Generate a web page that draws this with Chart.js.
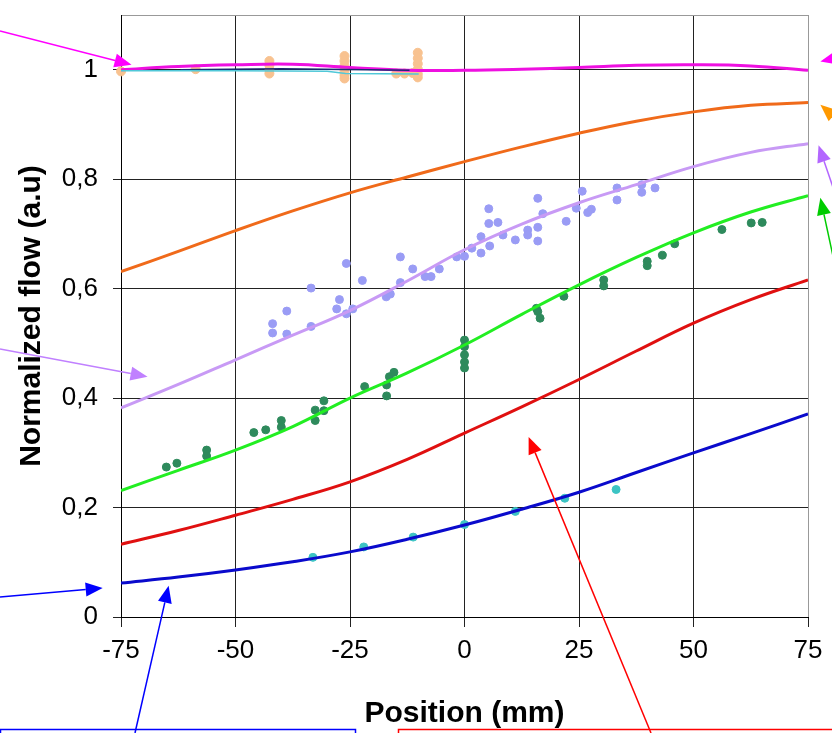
<!DOCTYPE html>
<html>
<head>
<meta charset="utf-8">
<script src="https://cdn.jsdelivr.net/npm/chart.js@4"></script>
<style>
  html, body { margin: 0; padding: 0; background: #fff; }
</style>
</head>
<body>
<canvas id="myChart" width="832" height="733"></canvas>
<script>
const positions = [-75, -62.5, -50, -37.5, -25, -12.5, 0, 12.5, 25, 37.5, 50, 62.5, 75];

// fitted curves
const magentaFit  = [1.0, 1.006, 1.009, 1.01, 1.004, 0.999, 0.999, 1.001, 1.004, 1.008, 1.009, 1.007, 0.999];
const orangeFit   = [0.631, 0.668, 0.706, 0.742, 0.775, 0.804, 0.832, 0.859, 0.884, 0.906, 0.923, 0.935, 0.94];
const lavenderFit = [0.382, 0.425, 0.47, 0.515, 0.56, 0.614, 0.671, 0.718, 0.757, 0.79, 0.823, 0.849, 0.865];
const greenFit    = [0.231, 0.268, 0.305, 0.348, 0.40, 0.446, 0.497, 0.553, 0.607, 0.657, 0.702, 0.74, 0.77];
const redFit      = [0.133, 0.158, 0.186, 0.215, 0.247, 0.288, 0.336, 0.384, 0.434, 0.486, 0.537, 0.58, 0.616];
const blueFit     = [0.062, 0.073, 0.086, 0.101, 0.119, 0.142, 0.168, 0.197, 0.228, 0.264, 0.30, 0.335, 0.371];

// thin lines hidden under the magenta one
const cyanX = [-75, -50, -30, -26, -10];
const cyanY = [0.998, 0.998, 0.997, 0.993, 0.992];
const navyX = [-62, -40, -12];
const navyY = [1.0, 1.002, 0.999];

// measured points
const peachX = [-75, -58.7, -42.6, -42.6, -42.6, -42.6, -26.2, -26.2, -26.2, -26.2, -26.2, -26.2, -14.9, -13.1, -11.3, -10.2, -10.2, -10.2, -10.2, -10.2, -10.2];
const peachY = [0.997, 1.001, 1.016, 1.008, 1.0, 0.993, 1.025, 1.016, 1.007, 0.998, 0.99, 0.984, 0.993, 0.993, 0.994, 1.031, 1.021, 1.011, 1.001, 0.992, 0.986];

const purpleX = [-41.9, -41.9, -38.8, -38.8, -33.5, -33.5, -27.3, -27.9, -25.8, -25.8, -24.4, -22.3, -17.1, -16.2, -14, -14, -11.3, -8.6, -7.3, -5.5, -1.7, 0, 1.6, 3.6, 3.6, 5.5, 5.3, 5.3, 7.3, 8.4, 11.1, 13.8, 13.8, 16, 17.1, 16, 16, 22.2, 24.4, 25.7, 26.9, 27.7, 33.3, 33.3, 38.7, 38.7, 41.6];
const purpleY = [0.536, 0.519, 0.559, 0.517, 0.601, 0.531, 0.58, 0.563, 0.646, 0.554, 0.563, 0.615, 0.585, 0.59, 0.658, 0.611, 0.636, 0.622, 0.622, 0.636, 0.658, 0.659, 0.674, 0.695, 0.665, 0.678, 0.719, 0.746, 0.721, 0.698, 0.689, 0.707, 0.698, 0.765, 0.737, 0.712, 0.687, 0.723, 0.747, 0.778, 0.739, 0.745, 0.784, 0.762, 0.79, 0.776, 0.784];

const dkGreenX = [-65.1, -62.8, -56.3, -56.3, -46, -43.4, -40, -40, -32.6, -32.6, -30.7, -30.7, -21.8, -17, -17, -16.4, -15.4, 0, 0, 0, 0, 0, 15.7, 16, 16.5, 21.7, 30.4, 30.4, 39.9, 39.9, 43.2, 45.9, 56.2, 62.6, 65];
const dkGreenY = [0.274, 0.281, 0.305, 0.294, 0.337, 0.342, 0.359, 0.347, 0.378, 0.359, 0.395, 0.377, 0.421, 0.404, 0.424, 0.439, 0.447, 0.506, 0.494, 0.479, 0.466, 0.455, 0.564, 0.558, 0.546, 0.586, 0.616, 0.605, 0.65, 0.642, 0.661, 0.682, 0.708, 0.72, 0.721];

const cyanPtsX = [-33.1, -22, -11.2, 0, 11.1, 21.9, 33.1];
const cyanPtsY = [0.109, 0.128, 0.146, 0.169, 0.193, 0.217, 0.233];

const xTicks = [-75, -50, -25, 0, 25, 50, 75];
const yTicks = [0, 0.2, 0.4, 0.6, 0.8, 1];

const FONT = "'Liberation Sans', Arial, sans-serif";

function pts(xs, ys) {
    return xs.map((x, i) => ({ x: x, y: ys[i] }));
}

function fitLine(ys, color, width) {
    return {
        data: pts(positions, ys),
        showLine: true,
        borderColor: color,
        borderWidth: width || 3,
        pointRadius: 0,
        tension: 0.4,
        fill: false,
    };
}

function dots(xs, ys, color, r) {
    return {
        data: pts(xs, ys),
        showLine: false,
        backgroundColor: color,
        borderColor: color,
        borderWidth: 1,
        pointRadius: r || 4,
        clip: 12,
    };
}

// arrows: tip in data units, tail in canvas pixels
const arrows = [
    { tip: [-72.7, 1.009], tail: [0, 31], color: "#ff00ff" },
    { tip: [77.7, 1.015], tail: [845, 56], color: "#ff00ff" },
    { tip: [77.7, 0.936], tail: [845, 126], color: "#ff9900" },
    { tip: [77.3, 0.862], tail: [836, 196], color: "#b366ff" },
    { tip: [77.7, 0.766], tail: [836, 270], color: "#00cc00" },
    { tip: [-69.2, 0.439], tail: [0, 349], color: "#c080ff" },
    { tip: [-79, 0.053], tail: [0, 597], color: "#0000ff" },
    { tip: [-64.6, 0.057], tail: [135, 733], color: "#0000ff" },
    { tip: [14.0, 0.329], tail: [651, 733], color: "#ff0000" },
];

function drawArrow(ctx, x0, y0, x1, y1, color) {
    const a = Math.atan2(y1 - y0, x1 - x0);
    const len = 17, half = 7;
    const bx = x1 - len * Math.cos(a), by = y1 - len * Math.sin(a);
    ctx.strokeStyle = color;
    ctx.fillStyle = color;
    ctx.lineWidth = 1.5;
    ctx.beginPath();
    ctx.moveTo(x0, y0);
    ctx.lineTo(bx, by);
    ctx.stroke();
    ctx.beginPath();
    ctx.moveTo(x1, y1);
    ctx.lineTo(bx + half * Math.sin(a), by - half * Math.cos(a));
    ctx.lineTo(bx - half * Math.sin(a), by + half * Math.cos(a));
    ctx.closePath();
    ctx.fill();
}

const notes = {
    id: "notes",
    afterDraw(chart) {
        const { ctx, scales } = chart;
        ctx.save();
        arrows.forEach((ar) => {
            const tx = scales.x.getPixelForValue(ar.tip[0]);
            const ty = scales.y.getPixelForValue(ar.tip[1]);
            drawArrow(ctx, ar.tail[0], ar.tail[1], tx, ty, ar.color);
        });
        // caption boxes cut by the bottom edge
        ctx.lineWidth = 1.5;
        ctx.strokeStyle = "#0000ff";
        ctx.strokeRect(0.5, 729.5, 355, 20);
        ctx.strokeStyle = "#ff0000";
        ctx.strokeRect(398.5, 729.5, 460, 20);
        ctx.restore();
    },
};

const ctx = document.getElementById("myChart").getContext("2d");

const myChart = new Chart(ctx, {
    type: "scatter",
    data: {
        datasets: [
            fitLine(blueFit, "#0a0acc"),
            fitLine(redFit, "#e01010"),
            fitLine(greenFit, "#22ee22"),
            fitLine(lavenderFit, "#c89af5"),
            fitLine(orangeFit, "#f06a1a"),
            { data: pts(cyanX, cyanY), showLine: true, borderColor: "#50c8d8", borderWidth: 1.5, pointRadius: 0 },
            { data: pts(navyX, navyY), showLine: true, borderColor: "#1a2a70", borderWidth: 1.5, pointRadius: 0 },
            fitLine(magentaFit, "#ee10e0"),
            dots(cyanPtsX, cyanPtsY, "#3cc4c4", 4),
            dots(dkGreenX, dkGreenY, "#2e8a5c"),
            dots(purpleX, purpleY, "#9a9cf5"),
            dots(peachX, peachY, "#f8c290", 4.5),
        ],
    },
    options: {
        responsive: false,
        animation: false,
        layout: { padding: { top: 0, right: 24, left: 0, bottom: 0 } },
        plugins: { legend: { display: false }, tooltip: { enabled: false } },
        scales: {
            x: {
                type: "linear",
                min: -75,
                max: 75,
                afterBuildTicks: (s) => { s.ticks = xTicks.map((v) => ({ value: v })); },
                afterFit: (s) => { s.height = 116; },
                ticks: { color: "#000", font: { family: FONT, size: 26 }, padding: 8, maxRotation: 0 },
                grid: {
                    color: (c) => (c.tick && c.tick.value === 75 ? "#999" : "#222"),
                    tickColor: "#222",
                    tickLength: 10,
                    lineWidth: 1,
                },
                border: { color: "#000", width: 1 },
                title: {
                    display: true,
                    text: "Position (mm)",
                    color: "#000",
                    font: { family: FONT, size: 30, weight: "bold" },
                    padding: { top: 0, bottom: 1 },
                },
            },
            y: {
                min: 0,
                max: 1.1,
                afterBuildTicks: (s) => { s.ticks = yTicks.concat([1.1]).map((v) => ({ value: v })); },
                afterFit: (s) => { s.width = 121; s.paddingTop = 15; },
                ticks: {
                    color: "#000",
                    font: { family: FONT, size: 26 },
                    padding: 15,
                    callback: (v) => (v > 1.05 ? "" : String(Math.round(v * 10) / 10).replace(".", ",")),
                },
                grid: {
                    color: (c) => (c.tick && c.tick.value > 1.05 ? "#999" : "#222"),
                    tickColor: (c) => (c.tick && c.tick.value > 1.05 ? "rgba(0,0,0,0)" : "#222"),
                    tickLength: 8,
                    lineWidth: 1,
                },
                border: { color: "#000", width: 1 },
                title: {
                    display: true,
                    text: "Normalized flow (a.u)",
                    color: "#000",
                    font: { family: FONT, size: 30, weight: "bold" },
                    padding: { top: 14, bottom: 4 },
                },
            },
        },
    },
    plugins: [notes],
});
</script>
</body>
</html>
